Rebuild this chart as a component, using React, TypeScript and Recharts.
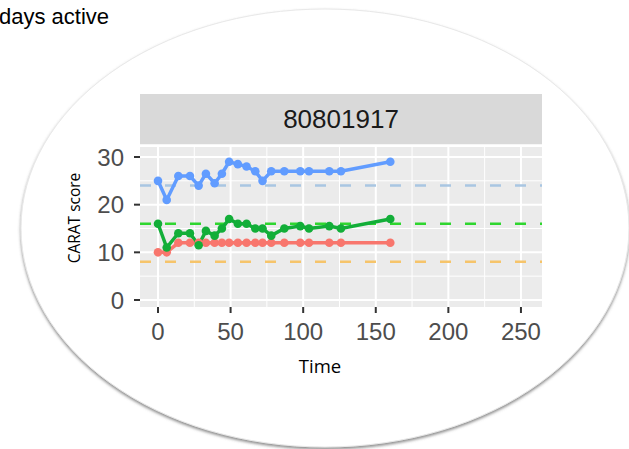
import React from 'react';
import { LineChart, Line, XAxis, YAxis, CartesianGrid, ReferenceLine, ReferenceArea } from 'recharts';

// ---- data ----
const times = [0, 6, 14, 22, 28, 33, 39, 44, 49, 55, 61, 67, 72, 78, 87, 98, 104, 118, 126, 160];
const blueScores = [25, 21, 26, 26, 24, 26.5, 24.5, 26.5, 29, 28.5, 28, 27, 25, 27, 27, 27, 27, 27, 27, 29];
const greenScores = [16, 11, 14, 14, 11.5, 14.5, 13.5, 15, 17, 16, 16, 15, 15, 13.5, 15, 15.5, 15, 15.5, 15, 17];
const redScores = [10, 10, 12, 12, 12, 12, 12, 12, 12, 12, 12, 12, 12, 12, 12, 12, 12, 12, 12, 12];
const thresholdBlue = 24;
const thresholdGreen = 16;
const thresholdOrange = 8;
const xTicks = [0, 50, 100, 150, 200, 250];
const xMinor = [25, 75, 125, 175, 225];
const yTicks = [0, 10, 20, 30];
const yMinor = [5, 15, 25];
const facetLabel = '80801917';
const xDomain = [-12.4, 264.5];
const yDomain = [-1.47, 32.1];
const stripRange = [32.7, 43.2];

const chartData = times.map((t, i) => ({
  time: t,
  blue: blueScores[i],
  green: greenScores[i],
  red: redScores[i],
}));

const W = 629;
const H = 449;

const BLUE = '#619CFF';
const GREEN = '#12AE38';
const RED = '#F8766D';

const YTitle = (props: any) => {
  const vb = props.viewBox || {};
  const cx = vb.x - 6;
  const cy = vb.y + vb.height / 2 - 9;
  return (
    <text
      x={cx}
      y={cy}
      transform={`rotate(-90, ${cx}, ${cy})`}
      textAnchor="middle"
      dominantBaseline="central"
      fontFamily="'Open Sans', sans-serif"
      fontSize={15.5}
      fill="#000"
    >
      CARAT score
    </text>
  );
};

const XTitle = (props: any) => {
  const vb = props.viewBox || {};
  const cx = vb.x + vb.width / 2 - 21;
  const cy = vb.y + 58;
  return (
    <text
      x={cx}
      y={cy}
      textAnchor="middle"
      dominantBaseline="central"
      fontFamily="'Open Sans', sans-serif"
      fontSize={18.5}
      fill="#000"
    >
      Time
    </text>
  );
};

export default function App() {
  return (
    <div style={{ position: 'absolute', left: 0, top: 0, width: W, height: H, background: '#fff' }}>
      <svg width={W} height={H} style={{ position: 'absolute', left: 0, top: 0 }}>
        <defs>
          <filter id="shadow" x="-10%" y="-10%" width="120%" height="120%">
            <feDropShadow dx="0" dy="2" stdDeviation="1.5" floodColor="#666" floodOpacity="0.75" />
          </filter>
        </defs>
        <ellipse cx={325} cy={228} rx={304} ry={219} fill="#fff" stroke="#e8e8e8" strokeWidth={1} filter="url(#shadow)" />
        <text x={-1} y={24} fontFamily="'Liberation Sans', Arial, sans-serif" fontSize={22} fill="#000">
          days active
        </text>
      </svg>
      <div style={{ position: 'absolute', left: 0, top: 0 }}>
        <LineChart
          width={W}
          height={H}
          data={chartData}
          margin={{ top: 147, right: 87, bottom: 82, left: 80 }}
        >
          <CartesianGrid
            horizontalValues={yMinor}
            verticalValues={xMinor}
            stroke="#ffffff"
            strokeWidth={1}
            fill="#EBEBEB"
            fillOpacity={1}
          />
          <CartesianGrid
            horizontalValues={yTicks}
            verticalValues={xTicks}
            stroke="#ffffff"
            strokeWidth={2}
          />
          <XAxis
            dataKey="time"
            type="number"
            domain={xDomain}
            ticks={xTicks}
            allowDataOverflow
            height={60}
            axisLine={false}
            tickSize={6}
            tickMargin={10}
            tickLine={{ stroke: '#333', strokeWidth: 2 }}
            tick={{ fill: '#4D4D4D', fontSize: 24, fontFamily: "'Liberation Sans', Arial, sans-serif" }}
            label={<XTitle />}
          />
          <YAxis
            type="number"
            domain={yDomain}
            ticks={yTicks}
            allowDataOverflow
            width={60}
            axisLine={false}
            tickSize={6}
            tickMargin={10}
            tickLine={{ stroke: '#333', strokeWidth: 2 }}
            tick={{ fill: '#4D4D4D', fontSize: 24, fontFamily: "'Liberation Sans', Arial, sans-serif" }}
            label={<YTitle />}
          />
          <ReferenceArea
            x1={xDomain[0]}
            x2={xDomain[1]}
            y1={stripRange[0]}
            y2={stripRange[1]}
            ifOverflow="visible"
            fill="#D9D9D9"
            fillOpacity={1}
            stroke="none"
            label={{
              value: facetLabel,
              position: 'center',
              fontSize: 26,
              fill: '#1A1A1A',
              fontFamily: "'Liberation Sans', Arial, sans-serif",
            }}
          />
          <ReferenceLine y={thresholdBlue} stroke="#A9C6E2" strokeWidth={2.5} strokeDasharray="11 14" />
          <ReferenceLine y={thresholdGreen} stroke="#2FD62F" strokeWidth={2.5} strokeDasharray="11 14" />
          <ReferenceLine y={thresholdOrange} stroke="#F6C46A" strokeWidth={2.5} strokeDasharray="11 14" />
          <Line
            dataKey="red"
            stroke={RED}
            strokeWidth={3.5}
            dot={{ r: 4.3, fill: RED, stroke: 'none' }}
            isAnimationActive={false}
          />
          <Line
            dataKey="green"
            stroke={GREEN}
            strokeWidth={3.5}
            dot={{ r: 4.3, fill: GREEN, stroke: 'none' }}
            isAnimationActive={false}
          />
          <Line
            dataKey="blue"
            stroke={BLUE}
            strokeWidth={3.5}
            dot={{ r: 4.3, fill: BLUE, stroke: 'none' }}
            isAnimationActive={false}
          />
        </LineChart>
      </div>
    </div>
  );
}
